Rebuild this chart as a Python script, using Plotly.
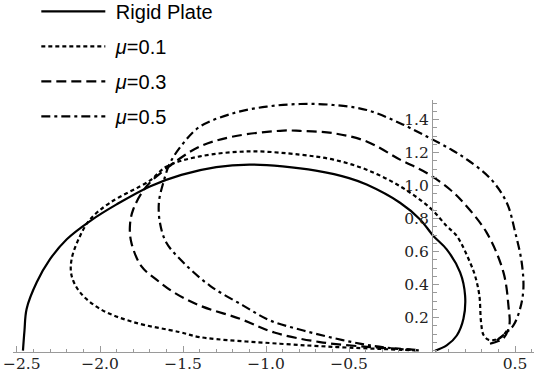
import plotly.graph_objects as go

# ---- data ----
rigid_x = [-2.464, -2.455, -2.442, -2.381, -2.301, -2.20, -2.06, -1.90, -1.70, -1.51, -1.30,
           -1.10, -0.90, -0.70, -0.50, -0.394, -0.193, -0.072, 0.008, 0.088, 0.169, 0.199,
           0.189, 0.149, 0.088, 0.018]
rigid_y = [0.0, 0.12, 0.253, 0.414, 0.554, 0.675, 0.785, 0.886, 0.995, 1.065, 1.112,
           1.127, 1.116, 1.09, 1.045, 1.006, 0.896, 0.795, 0.695, 0.614, 0.474, 0.333,
           0.193, 0.092, 0.032, 0.0]

mu1_x = [0.45, 0.42, 0.38, 0.34, 0.31, 0.295, 0.285, 0.26, 0.229, 0.149, 0.088, -0.012,
         -0.193, -0.394, -0.594, -0.795, -1.096, -1.398, -1.598, -1.70, -1.94, -2.06,
         -2.12, -2.171, -2.171, -2.12, -2.0, -1.799, -1.518, -1.398, -0.916, -0.574,
         -0.30, -0.10]
mu1_y = [0.12, 0.085, 0.066, 0.066, 0.095, 0.173, 0.333, 0.45, 0.534, 0.695, 0.755, 0.865,
         0.996, 1.096, 1.157, 1.187, 1.207, 1.177, 1.116, 1.03, 0.896, 0.795,
         0.695, 0.554, 0.454, 0.353, 0.253, 0.173, 0.112, 0.082, 0.042, 0.022,
         0.01, 0.002]

mu3_x = [0.349, 0.40, 0.43, 0.465, 0.46, 0.43, 0.329, 0.189, 0.108, -0.032, -0.193, -0.394,
         -0.594, -0.795, -0.896, -1.197, -1.398, -1.578, -1.719, -1.80, -1.82, -1.81,
         -1.75, -1.66, -1.55, -1.398, -1.157, -0.95, -0.675, -0.373, -0.133, -0.07]
mu3_y = [0.042, 0.058, 0.075, 0.15, 0.273, 0.474, 0.715, 0.896, 0.976, 1.076, 1.157, 1.267,
         1.317, 1.331, 1.333, 1.297, 1.237, 1.12, 0.996, 0.855, 0.75, 0.65,
         0.51, 0.43, 0.35, 0.273, 0.193, 0.11, 0.052, 0.022, 0.008, 0.002]

mu5_x = [0.39, 0.45, 0.49, 0.53, 0.55, 0.54, 0.50, 0.45, 0.349, 0.20, 0.108, -0.032, -0.193,
         -0.394, -0.594, -0.795, -0.996, -1.197, -1.398, -1.498, -1.578, -1.619, -1.645,
         -1.639, -1.60, -1.498, -1.337, -1.137, -0.976, -0.775, -0.574, -0.373, -0.173, -0.08]
mu5_y = [0.062, 0.112, 0.153, 0.253, 0.373, 0.534, 0.72, 0.896, 1.045, 1.165, 1.222, 1.297, 1.378,
         1.458, 1.488, 1.494, 1.478, 1.438, 1.357, 1.257, 1.137, 1.016, 0.90,
         0.775, 0.654, 0.534, 0.393, 0.273, 0.183, 0.122, 0.072, 0.032, 0.008, 0.002]

series_names = ["Rigid Plate", "<i>μ</i>=0.1", "<i>μ</i>=0.3", "<i>μ</i>=0.5"]

x_tickvals = [-2.5, -2.0, -1.5, -1.0, -0.5, 0.5]
x_ticktext = ["−2.5", "−2.0", "−1.5", "−1.0", "−0.5", "0.5"]
y_tickvals = [0.2, 0.4, 0.6, 0.8, 1.0, 1.2, 1.4]
y_ticktext = ["0.2", "0.4", "0.6", "0.8", "1.0", "1.2", "1.4"]

# ---- figure ----
W, H = 534, 373
dashes = ["solid", "4px,3px", "10px,5px", "9px,4px,3px,4px"]
data = [(rigid_x, rigid_y), (mu1_x, mu1_y), (mu3_x, mu3_y), (mu5_x, mu5_y)]

fig = go.Figure()
for i, ((xs, ys), name, dash) in enumerate(zip(data, series_names, dashes)):
    fig.add_trace(go.Scatter(
        x=xs, y=ys, mode="lines", name="\u00a0" + name, legendgroup=f"g{i}",
        line=dict(color="black", width=2.2, dash=dash, shape="spline", smoothing=1.0),
        hoverinfo="skip"))

axis_gray = "#9a9a9a"
tickfont = dict(family="DejaVu Serif", size=15.5, color="#222222")

# the leftmost x label sits at the page edge; like the reference, it is nudged inside
x_ticktext_axis = [""] + x_ticktext[1:]
fig.add_annotation(x=x_tickvals[0], y=21 / H, xref="x", yref="paper",
                   text=x_ticktext[0], showarrow=False, xanchor="center", yanchor="middle",
                   xshift=5, yshift=-11.5, font=tickfont)

fig.update_layout(
    width=W, height=H,
    margin=dict(l=0, r=0, t=0, b=0, autoexpand=False),
    paper_bgcolor="white", plot_bgcolor="white",
    showlegend=True,
    legend=dict(x=0.068, y=1.022, xanchor="left", yanchor="top",
                bgcolor="rgba(0,0,0,0)", itemwidth=64, tracegroupgap=6,
                font=dict(family="Liberation Sans", size=20, color="black")),
    xaxis=dict(domain=[13 / W, 1.0], range=[-2.524, 0.614], anchor="y",
               showgrid=False, zeroline=False, showline=True, linecolor=axis_gray, linewidth=1,
               ticks="inside", ticklen=6, tickcolor=axis_gray, tickwidth=1,
               ticklabeloverflow="allow", ticklabelstandoff=-3,
               tickvals=x_tickvals, ticktext=x_ticktext_axis, tickfont=tickfont,
               minor=dict(dtick=0.1, tick0=0, ticks="inside", ticklen=3.5, tickcolor=axis_gray, showgrid=False)),
    yaxis=dict(domain=[21 / H, (H - 99.7) / H], range=[-0.008, 1.52], anchor="free",
               position=432 / W, side="left",
               showgrid=False, zeroline=False, showline=True, linecolor=axis_gray, linewidth=1,
               ticks="inside", ticklen=6, tickcolor=axis_gray, tickwidth=1,
               ticklabeloverflow="allow",
               tickvals=y_tickvals, ticktext=y_ticktext, tickfont=tickfont,
               minor=dict(dtick=0.05, tick0=0, ticks="inside", ticklen=3.5, tickcolor=axis_gray, showgrid=False)),
)

fig.write_html("out.html")
